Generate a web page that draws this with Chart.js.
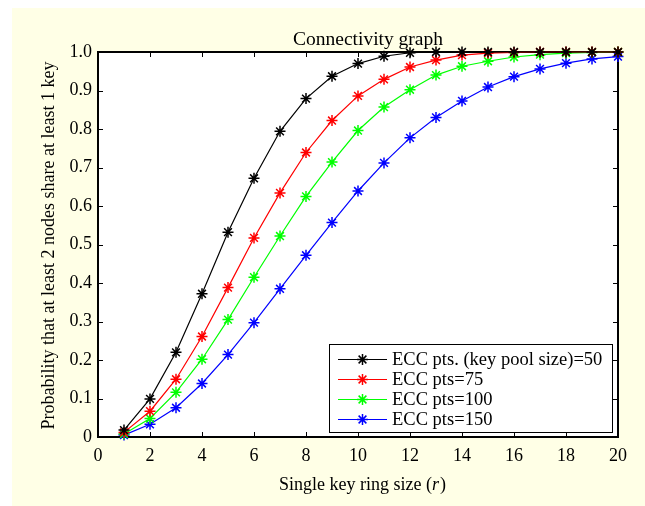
<!DOCTYPE html>
<html><head><meta charset="utf-8">
<script src="https://cdn.jsdelivr.net/npm/chart.js@4.4.0/dist/chart.umd.min.js"></script>
<style>html,body{margin:0;padding:0;background:#fff;}#wrap{position:relative;width:645px;height:506px;}</style>
</head><body><div id="wrap"><canvas id="c" width="645" height="506"></canvas></div>
<script>
const ringSizes = [1,2,3,4,5,6,7,8,9,10,11,12,13,14,15,16,17,18,19,20];
const pool50  = [0.018,0.099,0.220,0.372,0.532,0.672,0.794,0.879,0.937,0.970,0.989,0.998,1,1,1,1,1,1,1,1];
const pool75  = [0.012,0.067,0.150,0.261,0.388,0.517,0.634,0.739,0.822,0.886,0.929,0.961,0.979,0.992,0.997,0.999,1,1,1,1];
const pool100 = [0.008,0.048,0.116,0.202,0.305,0.415,0.522,0.625,0.714,0.796,0.857,0.902,0.940,0.963,0.976,0.987,0.993,0.997,0.999,1.0];
const pool150 = [0.005,0.033,0.076,0.139,0.214,0.297,0.385,0.472,0.557,0.639,0.712,0.777,0.830,0.873,0.909,0.936,0.956,0.971,0.982,0.988];
const xTicks = [0,2,4,6,8,10,12,14,16,18,20];
const yTicks = [0,0.1,0.2,0.3,0.4,0.5,0.6,0.7,0.8,0.9,1.0];
const yTickLabels = ['0','0.1','0.2','0.3','0.4','0.5','0.6','0.7','0.8','0.9','1.0'];
const titleText = 'Connectivity graph';
const xTitleParts = ['Single key ring size (', 'r', ')'];
const yTitleText = 'Probability that at least 2 nodes share at least 1 key';
const seriesLabels = ['ECC pts. (key pool size)=50','ECC pts=75','ECC pts=100','ECC pts=150'];
const seriesValues = [pool50, pool75, pool100, pool150];
const seriesColors = ['#000000','#FF0000','#00FF00','#0000FF'];

const FONT = '"Liberation Serif", serif';
const FS = 18;

const datasets = seriesValues.map((vals, i) => ({
  label: seriesLabels[i],
  data: ringSizes.map((r, j) => ({x: r, y: vals[j]})),
  borderColor: seriesColors[i],
  backgroundColor: seriesColors[i],
  borderWidth: 1.2,
  pointStyle: 'star',
  pointRadius: 5.5,
  pointBorderWidth: 1.5,
  pointBorderColor: seriesColors[i],
  pointHoverRadius: 5.5,
  tension: 0,
  clip: false
}));

const matlabPlugin = {
  id: 'matlab',
  beforeDraw(chart) {
    const ctx = chart.ctx, a = chart.chartArea;
    ctx.save();
    ctx.fillStyle = '#ffffff';
    ctx.fillRect(0, 0, chart.width, chart.height);
    ctx.fillStyle = '#FFFFE6';
    ctx.fillRect(12, 8, chart.width - 12, chart.height - 8);
    ctx.fillStyle = '#ffffff';
    ctx.fillRect(a.left, a.top, a.right - a.left, a.bottom - a.top);
    ctx.restore();
  },
  beforeDatasetsDraw(chart) {
    const ctx = chart.ctx, a = chart.chartArea;
    const xs = chart.scales.x, ys = chart.scales.y;
    ctx.save();
    ctx.strokeStyle = '#000';
    ctx.lineWidth = 1;
    ctx.beginPath();
    const L = 5;
    xTicks.forEach(v => {
      const px = Math.round(xs.getPixelForValue(v)) + 0.5;
      ctx.moveTo(px, a.bottom); ctx.lineTo(px, a.bottom - L);
      ctx.moveTo(px, a.top); ctx.lineTo(px, a.top + L);
    });
    yTicks.forEach(v => {
      const py = Math.round(ys.getPixelForValue(v)) + 0.5;
      ctx.moveTo(a.left, py); ctx.lineTo(a.left + L, py);
      ctx.moveTo(a.right, py); ctx.lineTo(a.right - L, py);
    });
    ctx.stroke();
    ctx.lineWidth = 2;
    ctx.strokeRect(a.left, a.top, a.right - a.left, a.bottom - a.top);
    ctx.restore();
  },
  afterDatasetsDraw(chart) {
    const ctx = chart.ctx;
    ctx.save();
    ctx.fillStyle = '#fff';
    ctx.fillRect(329, 344, 284, 89);
    ctx.strokeStyle = '#000';
    ctx.lineWidth = 1;
    ctx.strokeRect(329.5, 344.5, 283, 88);
    ctx.font = '18.5px ' + FONT;
    ctx.textBaseline = 'middle';
    ctx.textAlign = 'left';
    chart.data.datasets.forEach((ds, i) => {
      const y = 359.5 + 20 * i;
      ctx.strokeStyle = ds.borderColor;
      ctx.lineWidth = 1.2;
      ctx.beginPath();
      ctx.moveTo(338, y); ctx.lineTo(387, y);
      ctx.stroke();
      ctx.lineWidth = 1.5;
      Chart.helpers.drawPoint(ctx, {pointStyle: 'star', radius: 5.5, rotation: 0, borderWidth: 1.5}, 362.5, y);
      ctx.fillStyle = '#000';
      ctx.fillText(ds.label, 392, y + 1);
    });
    ctx.restore();
  },
  afterDraw(chart) {
    const ctx = chart.ctx, a = chart.chartArea;
    ctx.save();
    ctx.fillStyle = '#000';
    ctx.font = '19.5px ' + FONT;
    ctx.textBaseline = 'alphabetic';
    ctx.textAlign = 'center';
    const cx = (a.left + a.right) / 2;
    ctx.fillText(titleText, cx + 10, 45);
    const f1 = FS + 'px ' + FONT, f2 = 'italic ' + FS + 'px ' + FONT;
    ctx.font = f1; const w1 = ctx.measureText(xTitleParts[0]).width, w3 = ctx.measureText(xTitleParts[2]).width;
    ctx.font = f2; const w2 = ctx.measureText(xTitleParts[1]).width;
    let x0 = cx + 4 - (w1 + w2 + w3) / 2;
    ctx.textAlign = 'left';
    ctx.font = f1; ctx.fillText(xTitleParts[0], x0, 490);
    ctx.font = f2; ctx.fillText(xTitleParts[1], x0 + w1, 490);
    ctx.font = f1; ctx.fillText(xTitleParts[2], x0 + w1 + w2 + 1, 490);
    ctx.translate(54, (a.top + a.bottom) / 2 + 1);
    ctx.rotate(-Math.PI / 2);
    ctx.textAlign = 'center';
    ctx.font = f1;
    ctx.fillText(yTitleText, 0, 0);
    ctx.restore();
  }
};

new Chart(document.getElementById('c'), {
  type: 'line',
  data: { datasets },
  options: {
    responsive: false,
    animation: false,
    devicePixelRatio: 1,
    events: [],
    layout: { padding: { top: 52, right: 27, left: 0, bottom: 0 } },
    plugins: { legend: { display: false }, tooltip: { enabled: false }, title: { display: false } },
    scales: {
      x: {
        type: 'linear', min: 0, max: 20,
        afterBuildTicks: s => { s.ticks = xTicks.map(v => ({value: v})); },
        afterFit: s => { s.height = 69; },
        grid: { display: false, drawTicks: false },
        border: { display: false },
        ticks: { autoSkip: false, maxRotation: 0, padding: 8, color: '#000', font: { family: FONT, size: FS }, callback: v => String(v) }
      },
      y: {
        type: 'linear', min: 0, max: 1,
        afterBuildTicks: s => { s.ticks = yTicks.map(v => ({value: v})); },
        afterFit: s => { s.width = 98; },
        grid: { display: false, drawTicks: false },
        border: { display: false },
        ticks: { autoSkip: false, padding: 6, color: '#000', font: { family: FONT, size: FS }, callback: (v, i) => yTickLabels[i] }
      }
    }
  },
  plugins: [matlabPlugin]
});
</script></body></html>
